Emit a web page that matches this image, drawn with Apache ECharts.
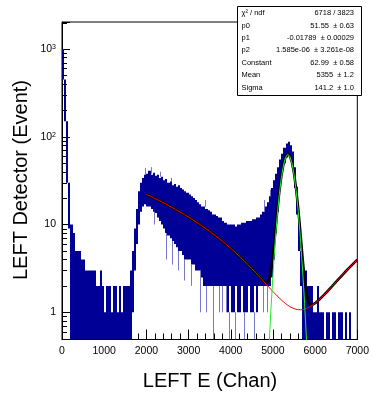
<!DOCTYPE html>
<html><head><meta charset="utf-8">
<script src="https://cdn.jsdelivr.net/npm/echarts@6/dist/echarts.min.js"></script>
<style>html,body{margin:0;padding:0;background:#fff}#c{width:372px;height:395px}</style>
</head><body><div id="c"></div>
<script>
const FONT = '"Liberation Sans", Arial, Helvetica, sans-serif';

// ---- histogram (50-channel groups: max / min count seen in each group) ----
const binWidth = 50;
const histHi = [
  1000, 450, 150, 30, 10, 8, 5, 5, 5, 4,
  4, 3, 3, 3, 3, 3, 2, 2, 3, 2,
  1, 2, 2, 1, 2, 2, 1, 2, 1, 2,
  2, 2, 3, 5, 9, 15, 24, 30, 34, 37,
  38, 41, 37, 39, 36, 37, 34, 35, 32, 33,
  30, 31, 28, 29, 27, 28, 26, 25, 24, 23,
  22, 21, 20, 19, 18, 17, 16, 16, 15, 14.5,
  14, 13, 13, 12.5, 12, 12, 11, 10.5, 10, 10,
  10, 10, 9.5, 10, 10, 10.5, 10.5, 11, 11, 11,
  11.5, 11.5, 12, 12, 13, 14, 16, 18, 21, 26,
  32, 38, 45, 55, 64, 75, 84, 88, 80, 68,
  45, 27, 12, 5, 3, 3, 2, 2, 2, 1,
  1, 2, 1, 1, 0, 1, 1, 0, 1, 1,
  0, 1, 1, 0, 1, 0, 1, 0, 0, 0
];
const histLo = [
  450, 150, 30, 9, 0, 0, 0, 0, 0, 0,
  0, 0, 0, 0, 0, 0, 0, 0, 0, 0,
  0, 0, 0, 0, 0, 0, 0, 0, 0, 0,
  0, 0, 0, 1, 3, 6, 10, 14, 16, 17,
  16, 16, 15, 14, 13.5, 12, 11, 10, 9, 8,
  7.5, 7, 6.5, 6, 5.5, 5, 5, 4.5, 4, 4,
  4, 3.5, 3.5, 3, 3, 3, 2.5, 2, 2, 2,
  2, 2, 2, 2, 2, 2, 2, 2, 1, 2,
  1, 1, 2, 1, 1, 2, 1, 1, 2, 1,
  1, 2, 1, 2, 2, 2, 2, 2, 2, 2.5,
  4, 8, 14, 25, 38, 50, 58, 60, 55, 42,
  26, 13, 5, 2, 0, 0, 0, 0, 0, 0,
  0, 0, 0, 0, 0, 0, 0, 0, 0, 0,
  0, 0, 0, 0, 0, 0, 0, 0, 0, 0
];
// single-bin excursions drawn as thin lines: [channel, low, high]
const spikes = [
  [1960, 37, 44], [2120, 38, 45], [2330, 35, 40], [2580, 30, 34], [3380, 16, 19],
  [4780, 14, 19], [4920, 21, 25],
  [2180, 10, 16], [2470, 4, 8], [2610, 3.5, 6.5], [2760, 3, 5], [2900, 2.3, 4],
  [3050, 2, 3.5], [3270, 1, 3], [3420, 1, 2], [3570, 0, 2], [3710, 1, 2],
  [3800, 1, 2], [3884, 1, 2], [3970, 0, 1], [4100, 0, 1], [4320, 0, 1],
  [4560, 0, 1], [4760, 1, 2], [4870, 1, 2]
];

// ---- fit curves (pol2 background, total, gaussian) ----
const fitX = [
  2000, 2100, 2200, 2300, 2400, 2500, 2600, 2700, 2800, 2900,
  3000, 3100, 3200, 3300, 3400, 3500, 3600, 3700, 3800, 3900,
  4000, 4100, 4200, 4300, 4400, 4500, 4600, 4700,
  4750, 4800, 4850, 4900, 4950, 5000, 5050, 5100, 5150, 5200,
  5250, 5300, 5350, 5400, 5450, 5500, 5550, 5600, 5650, 5700,
  5750, 5800, 5850, 5900, 5950,
  6000, 6100, 6200, 6300, 6400, 6500, 6600, 6700, 6800, 6900, 7000
];
const fitBkg = [
  22.11, 20.97, 19.86, 18.79, 17.74, 16.73, 15.75, 14.80, 13.88, 13.00,
  12.15, 11.32, 10.53, 9.77, 9.05, 8.35, 7.69, 7.06, 6.46, 5.89,
  5.35, 4.85, 4.37, 3.93, 3.52, 3.14, 2.80, 2.48,
  2.33, 2.196, 2.067, 1.945, 1.831, 1.725, 1.627, 1.537, 1.455, 1.380,
  1.3145, 1.256, 1.2055, 1.163, 1.1285, 1.101, 1.0825, 1.072, 1.0685, 1.074,
  1.0875, 1.107, 1.1365, 1.173, 1.2175,
  1.27, 1.40, 1.56, 1.75, 1.98, 2.23, 2.52, 2.84, 3.19, 3.57, 3.99
];
const fitTotal = [
  22.11, 20.97, 19.86, 18.79, 17.74, 16.73, 15.75, 14.80, 13.88, 13.00,
  12.15, 11.32, 10.53, 9.77, 9.05, 8.35, 7.69, 7.06, 6.46, 5.89,
  5.35, 4.85, 4.37, 3.93, 3.52, 3.14, 2.80, 2.48,
  2.34, 2.22, 2.17, 2.30, 2.86, 4.40, 7.74, 13.87, 23.42, 35.86,
  49.08, 59.65, 64.16, 61.03, 51.36, 38.28, 25.35, 15.05, 8.17, 4.25,
  2.35, 1.55, 1.27, 1.21, 1.23,
  1.27, 1.40, 1.56, 1.75, 1.98, 2.23, 2.52, 2.84, 3.19, 3.57, 3.99
];
const gausX = [4850, 4900, 4950, 5000, 5050, 5100, 5150, 5200, 5250, 5300, 5350,
  5400, 5450, 5500, 5550, 5600, 5650, 5700, 5750, 5800, 5850];
const gausY = [0.105, 0.351, 1.03, 2.67, 6.11, 12.33, 21.96, 34.48, 47.77, 58.39, 62.95,
  59.87, 50.23, 37.18, 24.27, 13.98, 7.10, 3.18, 1.26, 0.439, 0.135];

// ---- axes ----
const xMin = 0, xMax = 7000, xStep = 1000;
const yMin = 0.49, yMax = 2030;
const yMinorTicks = [0.5, 0.6, 0.7, 0.8, 0.9, 2, 3, 4, 5, 6, 7, 8, 9,
  20, 30, 40, 50, 60, 70, 80, 90, 200, 300, 400, 500, 600, 700, 800, 900, 2000];

// ---- stats box ----
const statLabels = ['χ² / ndf', 'p0', 'p1', 'p2', 'Constant', 'Mean', 'Sigma'];
const statValues = ['6718 / 3823', '51.55  ± 0.63', '-0.01789  ± 0.00029',
  '1.585e-06  ± 3.261e-08', '62.99  ± 0.58', '5355  ± 1.2', '141.2  ± 1.0'];

const HIST_COLOR = '#000096';
const chart = echarts.init(document.getElementById('c'), null, {renderer: 'canvas'});

const histData = histHi.map((h, i) => [i * binWidth, (i + 1) * binWidth, histLo[i], h]);
const zip = (xs, ys) => xs.map((x, i) => [x, ys[i]]);

const statGraphics = [{
  type: 'rect', shape: {x: 237.5, y: 6.5, width: 124, height: 89},
  style: {fill: '#fff', stroke: '#000', lineWidth: 1}, z: 100
}];
statLabels.forEach((t, i) => {
  const y = 13 + i * 12.45;
  statGraphics.push({type: 'text', x: 241.5, y: y, z: 101,
    style: {text: t, font: '7.5px ' + FONT, fill: '#000', textAlign: 'left', textVerticalAlign: 'middle'}});
  statGraphics.push({type: 'text', x: 354, y: y, z: 101,
    style: {text: statValues[i], font: '7.5px ' + FONT, fill: '#000', textAlign: 'right', textVerticalAlign: 'middle'}});
});

chart.setOption({
  animation: false,
  backgroundColor: '#fff',
  grid: {left: 62, top: 22, width: 298, height: 317.5, show: true, borderColor: '#000', borderWidth: 1, backgroundColor: 'transparent'},
  xAxis: {
    type: 'value', min: xMin, max: xMax, interval: xStep,
    axisLine: {show: true, onZero: false, lineStyle: {color: '#000', width: 1}},
    axisTick: {show: true, inside: true, length: 10, lineStyle: {color: '#000'}},
    minorTick: {show: true, splitNumber: 5, length: 6, lineStyle: {color: '#000'}},
    splitLine: {show: false},
    axisLabel: {color: '#000', fontSize: 10.5, fontFamily: FONT, margin: 6, formatter: v => String(v)}
  },
  yAxis: {
    type: 'log', logBase: 10, min: yMin, max: yMax,
    axisLine: {show: true, onZero: false, lineStyle: {color: '#000', width: 1}},
    axisTick: {show: true, inside: true, length: 8, lineStyle: {color: '#000'}},
    splitLine: {show: false},
    axisLabel: {
      color: '#000', fontFamily: FONT, fontSize: 10.5, margin: 6,
      showMinLabel: true, showMaxLabel: true,
      formatter: function (v) {
        const l = Math.log10(v), e = Math.round(l);
        if (Math.abs(l - e) > 1e-6) return '';
        if (e === 0) return '1';
        if (e === 1) return '10';
        return '{b|10}{s|' + e + '}';
      },
      rich: {
        b: {fontSize: 10.5, fontFamily: FONT, color: '#000'},
        s: {fontSize: 7, fontFamily: FONT, color: '#000', verticalAlign: 'top', padding: [0, 0, 4, 0]}
      }
    }
  },
  graphic: [
    {type: 'text', x: 210, y: 381, style: {text: 'LEFT E (Chan)', font: '20px ' + FONT, fill: '#000', textAlign: 'center', textVerticalAlign: 'middle'}},
    {type: 'text', x: 21, y: 180, rotation: Math.PI / 2, style: {text: 'LEFT Detector (Event)', font: '20px ' + FONT, fill: '#000', textAlign: 'center', textVerticalAlign: 'middle'}}
  ].concat(statGraphics),
  series: [
    {
      type: 'custom', clip: true, silent: true, data: histData,
      encode: {x: [0, 1], y: [3]},
      renderItem: function (params, api) {
        const x0 = api.value(0), x1 = api.value(1), lo = api.value(2), hi = api.value(3);
        if (!(hi > 0)) return null;
        const p0 = api.coord([x0, hi]);
        const p1 = api.coord([x1, lo > 0 ? lo : yMin * 0.5]);
        const a = Math.round(p0[0]);
        let b = Math.round(p1[0]);
        if (b <= a) b = a + 1;
        return {type: 'rect', shape: {x: a, y: p0[1], width: b - a, height: p1[1] - p0[1]},
          style: {fill: HIST_COLOR}};
      }
    },
    {
      type: 'custom', clip: true, silent: true, data: spikes,
      encode: {x: 0, y: 2},
      renderItem: function (params, api) {
        const x = api.value(0), lo = api.value(1), hi = api.value(2);
        const a = api.coord([x, hi]);
        const b = api.coord([x, lo > 0 ? lo : yMin * 0.5]);
        return {type: 'line', shape: {x1: Math.round(a[0]) + 0.5, y1: a[1], x2: Math.round(a[0]) + 0.5, y2: b[1]},
          style: {stroke: 'rgba(30,30,170,0.6)', lineWidth: 1}};
      }
    },
    {type: 'line', data: zip(fitX, fitTotal), showSymbol: false, symbol: 'none', clip: true, silent: true,
      lineStyle: {color: '#000', width: 2.6}, z: 3},
    {type: 'line', data: zip(fitX, fitBkg), showSymbol: false, symbol: 'none', clip: true, silent: true,
      lineStyle: {color: '#ff0000', width: 1}, z: 4},
    {type: 'line', data: zip(gausX, gausY), showSymbol: false, symbol: 'none', clip: true, silent: true,
      lineStyle: {color: '#22ee22', width: 1}, z: 5},
    {
      type: 'custom', clip: false, silent: true, data: yMinorTicks.map(v => [xMin, v]), z: 6,
      encode: {x: 0, y: 1},
      renderItem: function (params, api) {
        const p = api.coord([api.value(0), api.value(1)]);
        const y = Math.round(p[1]) + 0.5;
        return {type: 'line', shape: {x1: p[0], y1: y, x2: p[0] + 5, y2: y}, style: {stroke: '#000', lineWidth: 1}};
      }
    }
  ]
});
</script></body></html>
